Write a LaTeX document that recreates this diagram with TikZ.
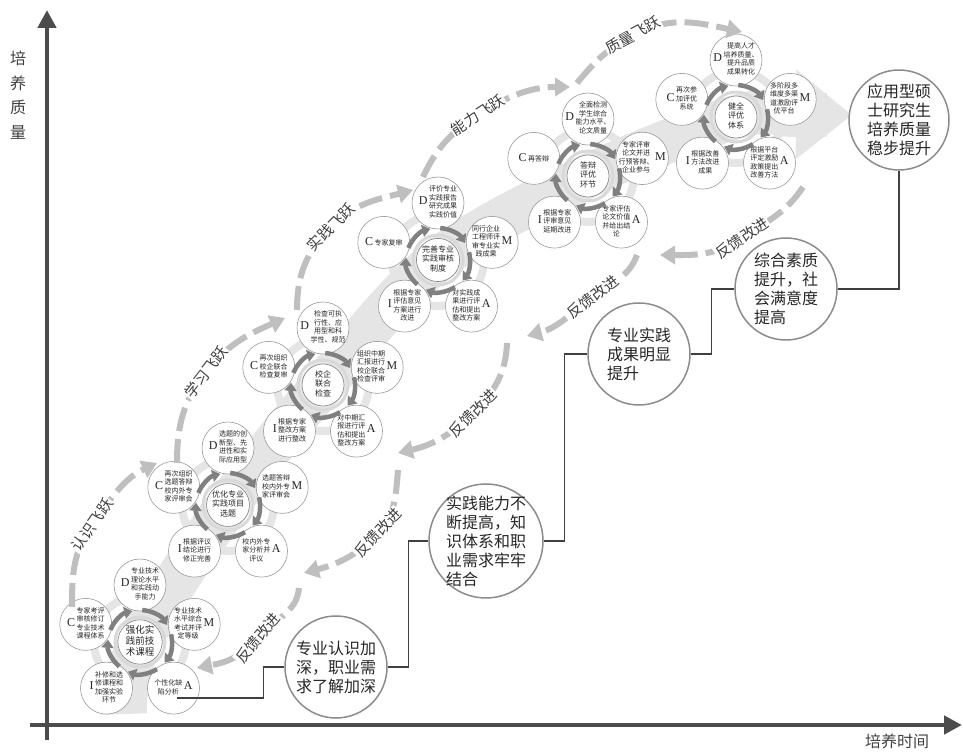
\documentclass[tikz,border=0pt]{standalone}
\usepackage{fontspec}
\setmainfont{Liberation Serif}
\newfontfamily\cjk{Noto Sans CJK SC}
\usetikzlibrary{arrows.meta,calc}

\newcommand{\lett}{\rmfamily\fontsize{12}{12}\selectfont}
\newcommand{\sattext}[1]{\begin{tabular}{@{}c@{}}#1\end{tabular}}
\newcommand{\hubfont}{\fontsize{8}{9.5}\selectfont}

\tikzset{
	qaxis/.style={line width=4.5pt, draw=black!70, -{Triangle[length=18pt,width=18pt]}},
	axlab/.style={font=\cjk\fontsize{16}{16}\selectfont, text=black!75},
	band/.style={line width=44pt, draw=black!10, -{Triangle[length=56pt,width=86pt]}},
	halo/.style={line width=8pt, draw=black!10},
	hubring/.style={line width=3pt, draw=black!15},
	hub/.style={circle, draw=black!50, line width=0.6pt, fill=white, minimum size=42pt, inner sep=0pt, font=\cjk\hubfont, text=black!85},
	sat/.style={circle, draw=black!40, line width=0.6pt, fill=white, minimum size=52pt, inner sep=-2pt, font=\cjk\fontsize{7}{8.5}\selectfont, text=black!85},
	cyc/.style={line width=4.5pt, draw=black!50, -{Triangle[length=8pt,width=12pt]}},
	leap/.style={line width=6pt, draw=black!25, dash pattern=on 24pt off 8pt, -{Triangle[length=15pt,width=18pt]}},
	leaplab/.style={fill=white, inner sep=1pt, font=\cjk\fontsize{15}{15}\selectfont, text=black!75},
	big/.style={circle, draw=black!45, line width=1.5pt, fill=white, minimum size=102pt, inner sep=-8pt, align=left, font=\cjk\fontsize{16}{19}\selectfont, text=black!85},
	stair/.style={line width=1.4pt, draw=black!75},
}

% one cycle: name, x, y, hub, D, M, A, I, C
\newcommand{\pdcacycle}[9]{%
	\coordinate (#1) at (#2,#3);
	\draw[halo] (#1) circle[radius=46];
	\draw[hubring] (#1) circle[radius=25];
	\node[hub] (#1h) at (#1) {\sattext{#4}};
	\node[sat] (#1d) at ($(#1)+(90:57)$) {{\lett D}\hspace{1.5pt}\sattext{#5}};
	\node[sat] (#1m) at ($(#1)+(18:57)$) {\sattext{#6}\hspace{1.5pt}{\lett M}};
	\node[sat] (#1a) at ($(#1)+(-54:57)$) {\sattext{#7}\hspace{1.5pt}{\lett A}};
	\node[sat] (#1i) at ($(#1)+(-126:57)$) {{\lett I}\hspace{1.5pt}\sattext{#8}};
	\node[sat] (#1c) at ($(#1)+(162:57)$) {{\lett C}\hspace{1.5pt}\sattext{#9}};
	\foreach \a in {158,86,14,-58,-130}
		\draw[cyc] ($(#1)+(\a:32)$) arc[start angle=\a, delta angle=-54, radius=32];
}

\begin{document}
\begin{tikzpicture}[x=1pt,y=1pt]
	\useasboundingbox (0,0) rectangle (963,752);

	% axes
	\draw[qaxis] (47,12) -- (47,742);
	\draw[qaxis] (30,27) -- (962,27);
	\node[axlab, align=center, font=\cjk\fontsize{16}{24.5}\selectfont] (yl) at (18,657) {培\\养\\质\\量};
	\node[axlab] (xl) at (897,11) {培养时间};

	% grey band
	\draw[band] plot[smooth, tension=0.6] coordinates {(125,38) (140,110) (228,247) (323,367) (438,492) (588,576) (736,635) (795,637) (852,637)};

	% cycles
	\renewcommand{\hubfont}{\fontsize{9.5}{11}\selectfont}
	\pdcacycle{k1}{140}{110}{强化实\\践前技\\术课程}{专业技术\\理论水平\\和实践动\\手能力}{专业技术\\水平综合\\考试并评\\定等级}{个性化缺\\陷分析}{补修和选\\修课程和\\加强实验\\环节}{专家考评\\审核修订\\专业技术\\课程体系}
	\renewcommand{\hubfont}{\fontsize{8}{9.5}\selectfont}
	\pdcacycle{k2}{228}{247}{优化专业\\实践项目\\选题}{选题的创\\新型、先\\进性和实\\际应用型}{选题答辩\\校内外专\\家评审会}{校内外专\\家分析并\\评议}{根据评议\\结论进行\\修正完善}{再次组织\\选题答辩\\校内外专\\家评审会}
	\pdcacycle{k3}{323}{367}{校企\\联合\\检查}{检查可执\\行性、应\\用型和科\\学性、规范}{组织中期\\汇报进行\\校企联合\\检查评审}{对中期汇\\报进行评\\估和提出\\整改方案}{根据专家\\整改方案\\进行整改}{再次组织\\校企联合\\检查复审}
	\pdcacycle{k4}{438}{492}{完善专业\\实践审核\\制度}{评价专业\\实践报告\\研究成果\\实践价值}{同行企业\\工程师评\\审专业实\\践成果}{对实践成\\果进行评\\估和提出\\整改方案}{根据专家\\评估意见\\方案进行\\改进}{专家复审}
	\pdcacycle{k5}{588}{576}{答辩\\评优\\环节}{全面检测\\学生综合\\能力水平、\\论文质量}{专家评审\\论文并进\\行预答辩、\\企业参与}{专家评估\\论文价值\\并给出结\\论}{根据专家\\评审意见\\延期改进}{再答辩}
	\pdcacycle{k6}{736}{635}{健全\\评优\\体系}{提高人才\\培养质量、\\提升品质\\成果转化}{多阶段多\\维度多渠\\道激励评\\优平台}{根据平台\\评定激励\\政策提出\\改善方法}{根据改善\\方法改进\\成果}{再次参\\加评优\\系统}

	% leaps
	\coordinate (s1) at (72,145);  \coordinate (m1) at (92,227);  \coordinate (e1) at (157,289);
	\coordinate (s2) at (177,289); \coordinate (m2) at (206,380); \coordinate (e2) at (285,434);
	\coordinate (s3) at (297,442); \coordinate (m3) at (331,525); \coordinate (e3) at (413,562);
	\coordinate (s4) at (423,575); \coordinate (m4) at (478,637); \coordinate (e4) at (570,665);
	\coordinate (s5) at (577,669); \coordinate (m5) at (633,717); \coordinate (e5) at (742,720);
	\draw[leap] (s1) to[out=90,in=235] (m1) to[out=55,in=205] (e1);
	\draw[leap] (s2) to[out=90,in=232] (m2) to[out=52,in=204] (e2);
	\draw[leap] (s3) to[out=90,in=225] (m3) to[out=45,in=195] (e3);
	\draw[leap] (s4) to[out=65,in=213] (m4) to[out=33,in=180] (e4);
	\draw[leap] (s5) to[out=50,in=208] (m5) to[out=28,in=168] (e5);
	\node[leaplab, rotate=55] (j1) at (m1) {认识飞跃};
	\node[leaplab, rotate=52] (j2) at (m2) {学习飞跃};
	\node[leaplab, rotate=45] (j3) at (m3) {实践飞跃};
	\node[leaplab, rotate=33] (j4) at (m4) {能力飞跃};
	\node[leaplab, rotate=28] (j5) at (m5) {质量飞跃};

	% feedback
	\coordinate (fs1) at (299,164); \coordinate (fm1) at (258,114); \coordinate (fe1) at (197,84);
	\coordinate (fs2) at (398,282); \coordinate (fm2) at (378,219); \coordinate (fe2) at (304,179);
	\coordinate (fs3) at (507,409); \coordinate (fm3) at (473,339); \coordinate (fe3) at (398,299);
	\coordinate (fs4) at (637,497); \coordinate (fm4) at (593,455); \coordinate (fe4) at (527,416);
	\coordinate (fs5) at (803,565); \coordinate (fm5) at (742,514); \coordinate (fe5) at (660,497);
	\draw[leap] (fs1) to[out=-95,in=50] (fm1) to[out=230,in=11] (fe1);
	\draw[leap] (fs2) to[out=-95,in=47] (fm2) to[out=227,in=15] (fe2);
	\draw[leap] (fs3) to[out=-92,in=45] (fm3) to[out=225,in=13] (fe3);
	\draw[leap] (fs4) to[out=-110,in=38] (fm4) to[out=218,in=15] (fe4);
	\draw[leap] (fs5) to[out=-123,in=34] (fm5) to[out=214,in=0] (fe5);
	\node[leaplab, rotate=50] (f1) at (fm1) {反馈改进};
	\node[leaplab, rotate=47] (f2) at (fm2) {反馈改进};
	\node[leaplab, rotate=45] (f3) at (fm3) {反馈改进};
	\node[leaplab, rotate=38] (f4) at (fm4) {反馈改进};
	\node[leaplab, rotate=34] (f5) at (fm5) {反馈改进};

	% results
	\node[big] (b1) at (336,85) {专业认识加\\深，职业需\\求了解加深};
	\node[big, minimum size=114pt] (b2) at (486,211) {实践能力不\\断提高，知\\识体系和职\\业需求牢牢\\结合};
	\node[big] (b3) at (639,398) {专业实践\\成果明显\\提升};
	\node[big] (b4) at (786,463) {综合素质\\提升，社\\会满意度\\提高};
	\node[big, minimum size=100pt] (b5) at (899,632) {应用型硕\\士研究生\\培养质量\\稳步提升};
	\coordinate (s0) at (177,54);
	\draw[stair] (s0) -| ($(b1.west)+(-21,0)$) -- (b1.west);
	\draw[stair] (b1.east) -- ++(21,0) |- (b2.west);
	\draw[stair] (b2.east) -- ++(21,0) |- (b3.west);
	\draw[stair] (b3.east) -- ++(21,0) |- (b4.west);
	\draw[stair] (b4.east) -| (b5.south);
\end{tikzpicture}
\end{document}
